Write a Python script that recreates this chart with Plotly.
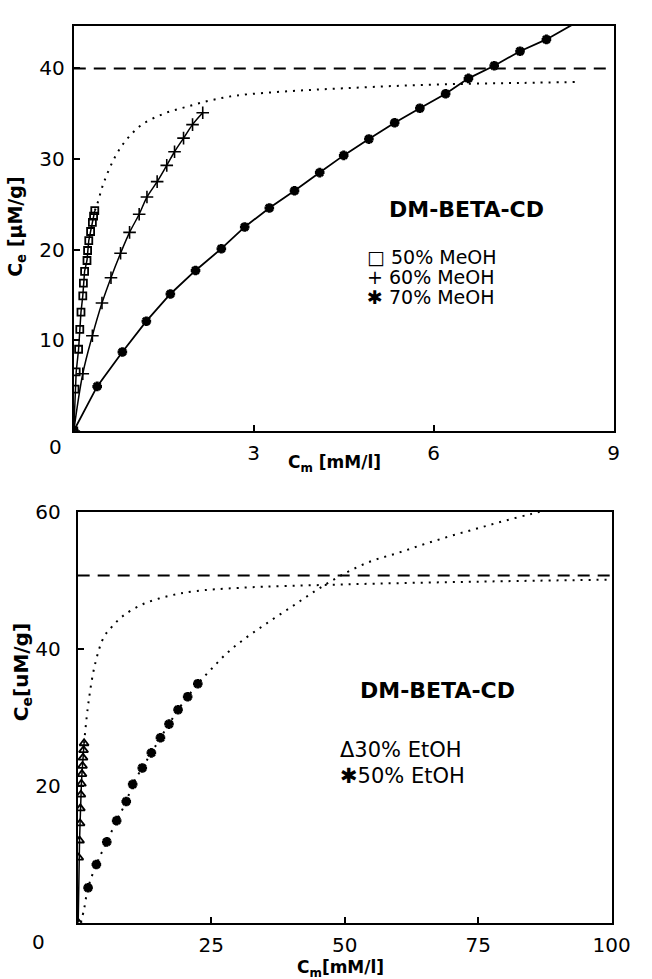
import plotly.graph_objects as go

W, H = 652, 979

# ---------------- Top panel data (MeOH) ----------------
meoh50_x = [0, 0.02, 0.04, 0.08, 0.10, 0.12, 0.15, 0.16, 0.18, 0.22, 0.23, 0.25, 0.28, 0.31, 0.33, 0.35]
meoh50_y = [0, 4.6, 6.5, 9.0, 11.2, 13.1, 14.9, 16.3, 17.6, 18.8, 19.9, 21.0, 22.0, 23.0, 23.7, 24.3]

meoh60_x = [0, 0.15, 0.31, 0.47, 0.62, 0.78, 0.93, 1.09, 1.22, 1.39, 1.55, 1.68, 1.83, 1.98, 2.15]
meoh60_y = [0, 6.3, 10.5, 14.1, 16.9, 19.6, 21.9, 23.9, 25.8, 27.5, 29.3, 30.8, 32.3, 33.8, 35.1]

meoh70_x = [0, 0.39, 0.81, 1.21, 1.61, 2.03, 2.46, 2.85, 3.26, 3.68, 4.10, 4.50, 4.92, 5.35, 5.77, 6.20, 6.58, 7.01, 7.44, 7.88]
meoh70_y = [0, 4.9, 8.7, 12.1, 15.1, 17.7, 20.1, 22.5, 24.6, 26.5, 28.5, 30.4, 32.2, 34.0, 35.6, 37.2, 38.9, 40.3, 41.9, 43.2]
meoh70_curve_end_x = [8.6]
meoh70_curve_end_y = [45.9]

top_fit_x = [0.35, 0.39, 0.5, 0.71, 0.9, 1.14, 1.5, 1.90, 2.3, 2.71, 3.62, 4.49, 5.5, 6.54, 7.5, 8.37]
top_fit_y = [24.3, 25.0, 27.4, 30.5, 32.3, 33.8, 35.0, 35.8, 36.5, 37.0, 37.5, 37.8, 38.1, 38.3, 38.4, 38.5]
top_qmax = 40

top_xticks = [3, 6, 9]
top_yticks = [10, 20, 30, 40]
top_xrange = [0, 9]
top_yrange = [0, 44.7]

# ---------------- Bottom panel data (EtOH) ----------------
etoh30_x = [0.1, 0.2, 0.35, 0.45, 0.5, 0.6, 0.7, 0.8, 0.9, 1.0, 1.1, 1.2]
etoh30_y = [0, 9.5, 12.0, 14.5, 16.7, 18.7, 20.3, 21.7, 22.9, 24.1, 25.2, 26.2]

etoh50_x = [1.95, 3.5, 5.45, 7.3, 9.1, 10.3, 12.1, 13.8, 15.5, 17.1, 18.8, 20.6, 22.5]
etoh50_y = [5.1, 8.5, 11.8, 14.9, 17.7, 20.2, 22.6, 24.8, 27.0, 29.0, 31.1, 33.0, 34.9]

etoh30_fit_x = [1.2, 2.1, 3.3, 4.9, 6.4, 8.5, 12.2, 17.0, 21.9, 30.4, 50, 75, 100]
etoh30_fit_y = [26.2, 32.6, 37.9, 41.7, 43.2, 44.8, 46.5, 47.7, 48.4, 48.9, 49.4, 49.8, 50.1]

etoh50_fit_x = [0.6, 1.2, 1.95, 3.5, 5.45, 7.3, 9.1, 10.3, 12.1, 13.8, 15.5, 17.1, 18.8, 20.6, 22.5,
                25, 28, 31, 35, 40, 45, 50, 55, 60, 65, 70, 75, 80, 85, 88]
etoh50_fit_y = [0, 2.0, 5.1, 8.5, 11.8, 14.9, 17.7, 20.2, 22.6, 24.8, 27.0, 29.0, 31.1, 33.0, 34.9,
                37.0, 39.4, 41.3, 43.5, 46.1, 48.7, 51.0, 52.8, 54.0, 55.3, 56.5, 57.6, 58.7, 59.7, 60.3]
bottom_qmax = 50.7

bottom_xticks = [25, 50, 75, 100]
bottom_yticks = [20, 40, 60]
bottom_xrange = [0, 100]
bottom_yrange = [0, 60]


def px_x(x):
    return x / W


def px_y(y):
    return 1 - y / H


BLACK = "black"
TICKFONT = dict(family="DejaVu Sans", size=20, color=BLACK)
DOT = "2px,6px"

fig = go.Figure()

# top panel traces
fig.add_trace(go.Scatter(x=top_fit_x, y=top_fit_y, mode="lines", line=dict(color=BLACK, width=2, dash=DOT, shape="spline"),
                         xaxis="x", yaxis="y", showlegend=False))
fig.add_trace(go.Scatter(x=meoh50_x, y=meoh50_y, mode="lines+markers", line=dict(color=BLACK, width=1.5),
                         marker=dict(symbol="square-open", size=7, color=BLACK, line=dict(width=1.8)),
                         xaxis="x", yaxis="y", showlegend=False))
fig.add_trace(go.Scatter(x=meoh60_x, y=meoh60_y, mode="lines+markers", line=dict(color=BLACK, width=1.5, shape="spline"),
                         marker=dict(symbol="cross-thin-open", size=9, color=BLACK, line=dict(width=1.6, color=BLACK)),
                         xaxis="x", yaxis="y", showlegend=False))
fig.add_trace(go.Scatter(x=meoh70_x + meoh70_curve_end_x, y=meoh70_y + meoh70_curve_end_y, mode="lines",
                         line=dict(color=BLACK, width=1.8),
                         xaxis="x", yaxis="y", showlegend=False))
fig.add_trace(go.Scatter(x=meoh70_x, y=meoh70_y, mode="markers",
                         marker=dict(symbol="asterisk-open", size=8, color=BLACK, line=dict(width=3, color=BLACK)),
                         xaxis="x", yaxis="y", showlegend=False))

# bottom panel traces
fig.add_trace(go.Scatter(x=etoh30_fit_x, y=etoh30_fit_y, mode="lines", line=dict(color=BLACK, width=2, dash=DOT, shape="spline"),
                         xaxis="x2", yaxis="y2", showlegend=False))
fig.add_trace(go.Scatter(x=etoh50_fit_x, y=etoh50_fit_y, mode="lines", line=dict(color=BLACK, width=2, dash=DOT, shape="spline"),
                         xaxis="x2", yaxis="y2", showlegend=False))
fig.add_trace(go.Scatter(x=etoh30_x, y=etoh30_y, mode="lines+markers", line=dict(color=BLACK, width=1.5),
                         marker=dict(symbol="triangle-up-open", size=8, color=BLACK, line=dict(width=1.8)),
                         xaxis="x2", yaxis="y2", showlegend=False))
fig.add_trace(go.Scatter(x=etoh50_x, y=etoh50_y, mode="markers",
                         marker=dict(symbol="asterisk-open", size=8, color=BLACK, line=dict(width=3, color=BLACK)),
                         xaxis="x2", yaxis="y2", showlegend=False))

axis_common = dict(showline=True, linecolor=BLACK, linewidth=2, mirror=True, showgrid=False, zeroline=False,
                   ticks="inside", ticklen=6, tickwidth=2, tickcolor=BLACK, tickfont=TICKFONT)

fig.update_layout(
    width=W, height=H, autosize=False,
    margin=dict(l=0, r=0, t=0, b=0),
    paper_bgcolor="white", plot_bgcolor="white",
    xaxis=dict(domain=[px_x(76), px_x(632)], range=top_xrange, tickvals=top_xticks, anchor="y",
               ticklabelstandoff=3, **axis_common),
    yaxis=dict(domain=[px_y(424), px_y(14)], range=top_yrange, tickvals=top_yticks, anchor="x",
               ticklabelstandoff=3, **axis_common),
    xaxis2=dict(domain=[px_x(80), px_x(630)], range=bottom_xrange, tickvals=bottom_xticks, anchor="y2",
                ticklabelstandoff=3, **axis_common),
    yaxis2=dict(domain=[px_y(922), px_y(506)], range=bottom_yrange, tickvals=bottom_yticks, anchor="x2",
                ticklabelstandoff=11, **axis_common),
    shapes=[
        dict(type="line", xref="x domain", x0=0, x1=1, yref="y", y0=top_qmax, y1=top_qmax,
             line=dict(color=BLACK, width=2, dash="12px,8px")),
        dict(type="line", xref="x2 domain", x0=0, x1=1, yref="y2", y0=bottom_qmax, y1=bottom_qmax,
             line=dict(color=BLACK, width=2, dash="12px,8px")),
    ],
)

ann = []


def add_text(text, x, y, size=17, bold=False, xanchor="center", angle=0):
    ann.append(dict(text=("<b>%s</b>" % text) if bold else text, x=px_x(x), y=px_y(y), xref="paper", yref="paper",
                    showarrow=False, xanchor=xanchor, yanchor="middle", textangle=angle,
                    font=dict(family="DejaVu Sans", size=size, color=BLACK)))


# top panel texts
add_text("DM-BETA-CD", 481, 200, size=22, bold=True)
add_text("□ 50% MeOH", 376, 248, size=19, xanchor="left")
add_text("+ 60% MeOH", 376, 268, size=19, xanchor="left")
add_text("✱ 70% MeOH", 376, 289, size=19, xanchor="left")
add_text("C<sub>e</sub> [µM/g]", 17, 218, size=19, bold=True, angle=-90)
add_text("C<sub>m</sub> [mM/l]", 345, 457, size=17, bold=True)
add_text("0", 57, 440, size=20)

# bottom panel texts
add_text("DM-BETA-CD", 451, 687, size=22, bold=True)
add_text("Δ30% EtOH", 348, 747, size=21, xanchor="left")
add_text("✱50% EtOH", 348, 773, size=21, xanchor="left")
add_text("C<sub>e</sub>[uM/g]", 22, 668, size=20, bold=True, angle=-90)
add_text("C<sub>m</sub>[mM/l]", 351, 968, size=17, bold=True)
add_text("0", 40, 942, size=20)

fig.update_layout(annotations=ann)

fig.write_html("out.html", config={"displayModeBar": False},
               post_script="document.body.style.margin='0px';document.body.style.overflow='hidden';")
